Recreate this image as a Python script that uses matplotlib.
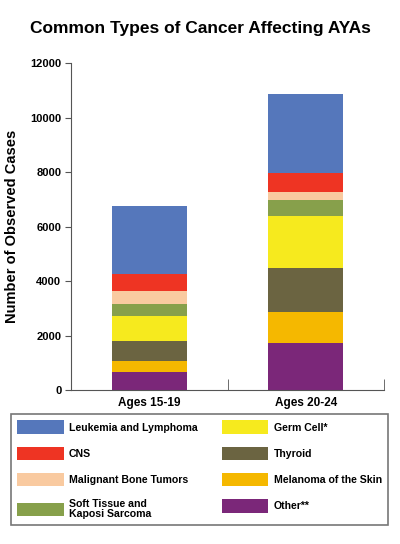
import matplotlib.pyplot as plt
import numpy as np

plt.rcParams['font.family'] = ['Liberation Sans', 'DejaVu Sans']
plt.rcParams['font.weight'] = 'bold'

groups = ['Ages 15-19', 'Ages 20-24']
# stacked bottom to top
types = ['Other**', 'Melanoma of the Skin', 'Thyroid', 'Germ Cell*',
         'Soft Tissue and\nKaposi Sarcoma', 'Malignant Bone Tumors', 'CNS',
         'Leukemia and Lymphoma']
ages_15_19 = [673, 380, 760, 906, 430, 500, 610, 2510]
ages_20_24 = [1740, 1140, 1590, 1920, 575, 320, 670, 2900]
colors = ['#7b2779', '#f5b800', '#6b6441', '#f6ea1e',
          '#87a04b', '#f9caa0', '#ee3423', '#5577bb']

fig = plt.figure(figsize=(4, 5.44), dpi=100)
ax = fig.add_axes([0.1775, 0.283, 0.7825, 0.6006])

x = np.arange(len(groups))
bottom = np.zeros(len(groups))
bars = {}
for i, name in enumerate(types):
    vals = np.array([ages_15_19[i], ages_20_24[i]])
    bars[name] = ax.bar(x, vals, 0.48, bottom=bottom, color=colors[i], label=name)
    bottom += vals

ax.set_xlim(-0.5, 1.5)
ax.set_ylim(0, 12000)
ax.set_yticks(np.arange(0, 12001, 2000))
ax.set_xticks(x)
ax.set_xticklabels(groups, fontsize=8.5, fontweight='bold')
ax.set_xticks([0.5, 1.5], minor=True)
ax.tick_params(axis='x', which='major', length=0, pad=5)
ax.tick_params(axis='x', which='minor', direction='in', length=8, color='#555555')
ax.tick_params(axis='y', length=4, color='#555555', labelsize=8, pad=3)
for lab in ax.get_yticklabels():
    lab.set_fontweight('bold')
for s in ['top', 'right']:
    ax.spines[s].set_visible(False)
for s in ['left', 'bottom']:
    ax.spines[s].set_color('#555555')
ax.set_ylabel('Number of Observed Cases', fontsize=10.5, fontweight='bold', labelpad=8)

fig.text(0.5, 0.947, 'Common Types of Cancer Affecting AYAs', ha='center', va='center',
         fontsize=12.5, fontweight='bold')

order = ['Leukemia and Lymphoma', 'CNS', 'Malignant Bone Tumors',
         'Soft Tissue and\nKaposi Sarcoma', 'Germ Cell*', 'Thyroid',
         'Melanoma of the Skin', 'Other**']
leg = fig.legend([bars[n] for n in order], order, ncol=2,
                 loc='upper left', bbox_to_anchor=(0.0275, 0.031, 0.9425, 0.208),
                 mode='expand', fontsize=7.6, frameon=True, fancybox=False,
                 edgecolor='#555555', handlelength=4.4, handleheight=1.6,
                 labelspacing=1.2, handletextpad=0.5, borderaxespad=0,
                 borderpad=0.6)
leg.get_frame().set_linewidth(1.2)
for t in leg.get_texts():
    t.set_fontweight('bold')
    t.set_linespacing(0.95)

fig.savefig('out.png', dpi=100)
